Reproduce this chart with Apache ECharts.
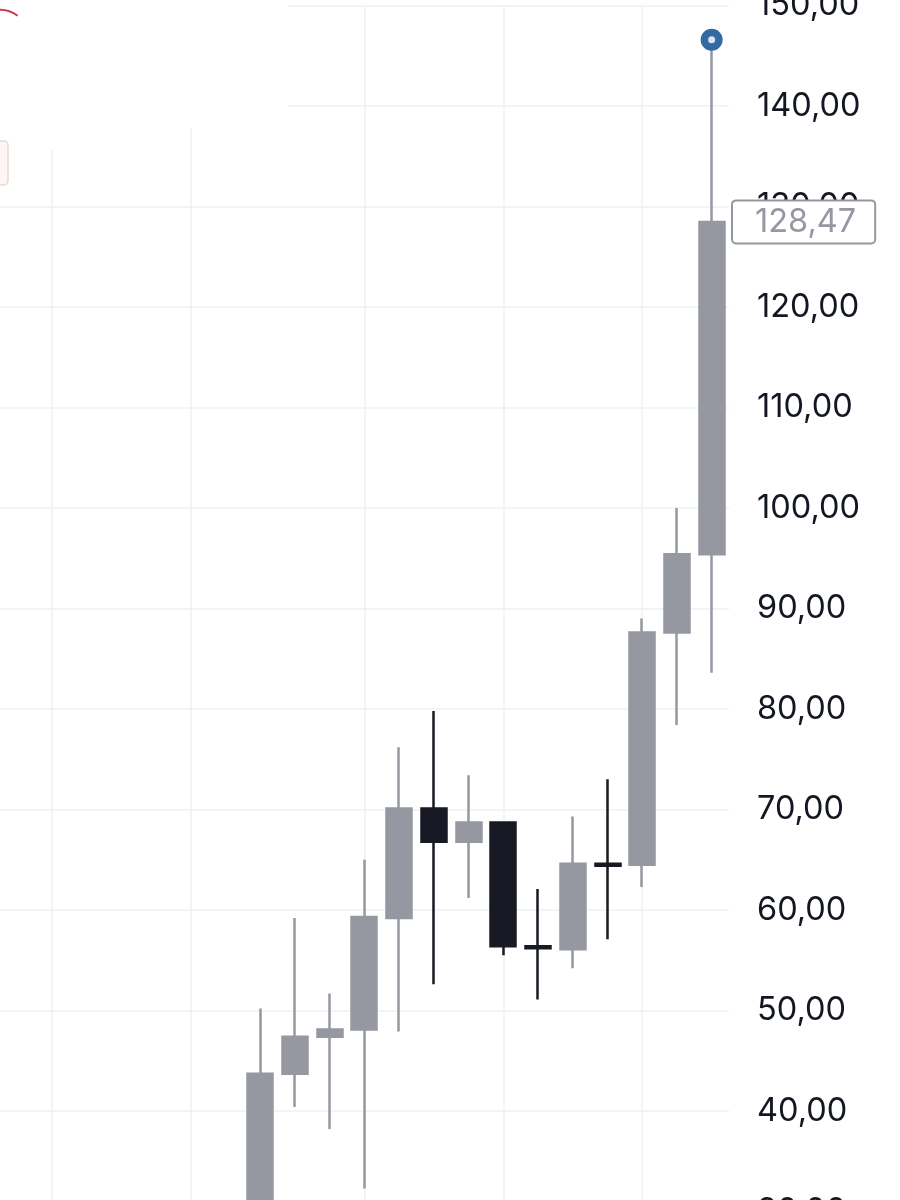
<!DOCTYPE html>
<html>
<head>
<meta charset="utf-8">
<script src="https://cdn.jsdelivr.net/npm/echarts@6/dist/echarts.min.js"></script>
<style>
  html, body { margin: 0; padding: 0; background: #fff; }
  #myChart { width: 900px; height: 1200px; }
</style>
</head>
<body>
<div id="myChart"></div>
<script>
  // weekly candles, the first ones sit below the visible range
  var categories = ['W1', 'W2', 'W3', 'W4', 'W5', 'W6', 'W7', 'W8', 'W9', 'W10', 'W11',
    'W12', 'W13', 'W14', 'W15', 'W16', 'W17', 'W18', 'W19', 'W20', 'W21']
  // [open, close, low, high]
  var ohlc = ['-', '-', '-', '-', '-', '-', '-',
    [28.0, 43.7, 26.0, 50.2],
    [43.7, 47.4, 40.4, 59.2],
    [47.4, 48.1, 38.2, 51.7],
    [48.1, 59.3, 32.3, 65.0],
    [59.2, 70.1, 47.9, 76.2],
    [70.1, 66.8, 52.6, 79.8],
    [66.8, 68.7, 61.2, 73.4],
    [68.7, 56.4, 55.5, 68.8],
    [56.4, 56.2, 51.1, 62.1],
    [56.1, 64.6, 54.2, 69.3],
    [64.6, 64.4, 57.1, 73.0],
    [64.5, 87.6, 62.3, 89.0],
    [87.6, 95.4, 78.4, 100.0],
    [95.4, 128.47, 83.6, 146.6]]
  var gridCats = ['W2', 'W6', 'W11', 'W15', 'W19']
  var lastPrice = 128.47
  var yTicks = [30, 150, 10]

  var upColor = '#9598a1'
  var downColor = '#171a25'
  var gridColor = '#eef0f3'

  function fmt(v) {
    return v.toFixed(2).replace('.', ',')
  }

  var last = ohlc[ohlc.length - 1]
  var markLines = gridCats.map(function (c) {
    return { xAxis: c, label: { show: false }, lineStyle: { color: gridColor, width: 1.5, type: 'solid' } }
  })
  markLines.push({
    yAxis: lastPrice,
    lineStyle: { color: 'rgba(0,0,0,0)', width: 1 },
    label: {
      show: true,
      position: 'end',
      distance: 4,
      formatter: fmt(lastPrice),
      color: '#9598a1',
      fontFamily: 'Inter',
      fontSize: 32.5,
      lineHeight: 36,
      backgroundColor: '#fff',
      borderColor: '#9598a1',
      borderWidth: 2,
      borderRadius: 3,
      padding: [3, 18, 2, 22]
    }
  })

  var myChart = echarts.init(document.getElementById('myChart'))
  var option = {
    animation: false,
    backgroundColor: '#fff',
    grid: { left: 0, right: 171, top: 5.5, bottom: -11.5, containLabel: false, outerBoundsMode: 'none' },
    xAxis: {
      type: 'category',
      data: categories,
      boundaryGap: true,
      axisLine: { show: false },
      axisTick: { show: false },
      axisLabel: { show: false },
      splitLine: { show: false }
    },
    yAxis: {
      type: 'value',
      position: 'right',
      min: yTicks[0],
      max: yTicks[1],
      interval: yTicks[2],
      axisLine: { show: false },
      axisTick: { show: false },
      axisLabel: {
        margin: 28,
        color: '#131722',
        fontFamily: 'Inter',
        fontSize: 32.5,
        formatter: fmt
      },
      splitLine: { lineStyle: { color: gridColor, width: 1.5 } }
    },
    series: [{
      type: 'candlestick',
      data: ohlc,
      barWidth: 25.5,
      itemStyle: {
        color: upColor,
        color0: downColor,
        borderColor: upColor,
        borderColor0: downColor,
        borderWidth: 2.5
      },
      markLine: {
        silent: true,
        z: 1,
        symbol: ['none', 'none'],
        data: markLines
      },
      markPoint: {
        silent: true,
        symbol: 'circle',
        label: { show: false },
        data: [
          { coord: [categories[categories.length - 1], last[3]], symbolSize: 22, itemStyle: { color: '#346aa3' } },
          { coord: [categories[categories.length - 1], last[3]], symbolSize: 7, itemStyle: { color: '#dde6f0' } }
        ]
      }
    }],
    graphic: [
      { type: 'rect', shape: { x: 0, y: 0, width: 288, height: 128 }, style: { fill: '#fff' }, z: 10 },
      { type: 'rect', shape: { x: 0, y: 128, width: 140, height: 22 }, style: { fill: '#fff' }, z: 10 },
      { type: 'arc', shape: { cx: 0, cy: 40, r: 30, startAngle: -Math.PI * 0.6, endAngle: -Math.PI * 0.3 }, style: { stroke: '#cc3b4a', lineWidth: 2, fill: null }, z: 11 },
      { type: 'rect', shape: { x: -12, y: 141, width: 20, height: 44, r: 4 }, style: { stroke: '#e9d9d3', lineWidth: 1.5, fill: '#fdf6f4' }, z: 11 }
    ]
  }
  myChart.setOption(option)
</script>
</body>
</html>
